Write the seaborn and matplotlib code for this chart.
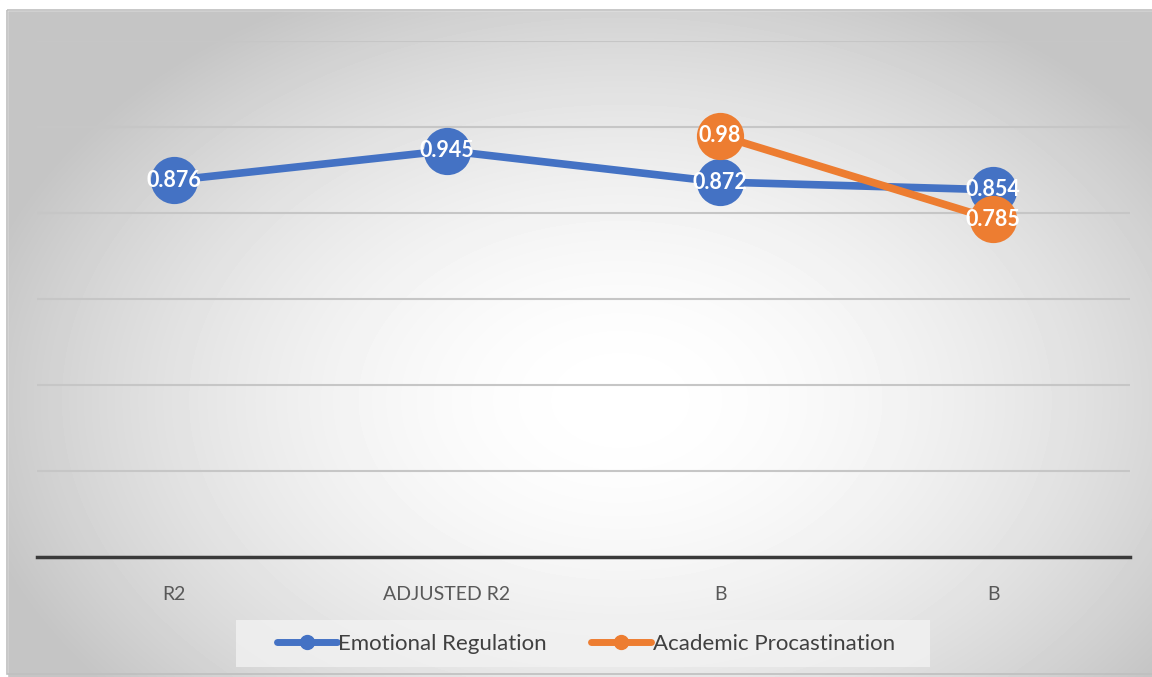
import numpy as np
import pandas as pd
import seaborn as sns
import matplotlib.pyplot as plt
from matplotlib.patches import Rectangle

categories = ["R2", "ADJUSTED R2", "B", "B"]
emotional = [0.876, 0.945, 0.872, 0.854]
academic = [np.nan, np.nan, 0.98, 0.785]

blue = "#4472C4"
orange = "#ED7D31"

sns.set_theme(style="white")
plt.rcParams["font.family"] = ["Lato", "DejaVu Sans"]

fig = plt.figure(figsize=(11.52, 6.77), dpi=100)

# radial gradient background, like the Excel chart area
bg = fig.add_axes([0, 0, 1, 1], zorder=0)
yy, xx = np.mgrid[0:677, 0:1152]
d = np.sqrt(((xx - 620) / 700.0) ** 2 + ((yy - 400) / 480.0) ** 2)
shade = 1.0 - 0.23 * np.clip(d / 0.95, 0, 1) ** 1.8
bg.imshow(shade, cmap="gray", vmin=0, vmax=1, extent=(0, 1152, 677, 0), aspect="auto")
bg.add_patch(Rectangle((0, 0), 1152, 10, color="white", zorder=2))
bg.add_patch(Rectangle((0, 0), 7, 677, color="white", zorder=2))
bg.add_patch(Rectangle((7, 10), 1150, 664, fill=False, edgecolor="#bfbfbf", lw=1.2, zorder=3))
# legend box
bg.add_patch(Rectangle((236, 620), 694, 47, color="#f2f2f2", alpha=0.8, lw=0, zorder=3))
bg.set_xlim(0, 1152)
bg.set_ylim(677, 0)
bg.axis("off")

ax = fig.add_axes([37 / 1152, 1 - 557 / 677, (1130 - 37) / 1152, (557 - 41) / 677], zorder=1)
ax.patch.set_alpha(0)

df = pd.DataFrame({"pos": range(len(categories)), "Emotional Regulation": emotional,
                   "Academic Procastination": academic})

for col, c in [("Emotional Regulation", blue), ("Academic Procastination", orange)]:
    sns.lineplot(data=df, x="pos", y=col, ax=ax, color=c, lw=5.5, marker="o",
                 markersize=34, markeredgewidth=0, label=col, legend=False)
    for x, v in zip(df["pos"], df[col]):
        if not np.isnan(v):
            ax.text(x, v, f"{v:g}", color="white", fontsize=15.5, fontweight="bold",
                    ha="center", va="center", zorder=5)

ax.set_xlim(-0.5, len(categories) - 0.5)
ax.set_ylim(0, 1.2)
ax.set_yticks(np.arange(0, 1.21, 0.2))
ax.yaxis.grid(True, color="#c6c6c6", lw=1.5)
ax.set_axisbelow(True)
ax.set_yticklabels([])
ax.tick_params(axis="y", length=0)
ax.set_xticks(df["pos"])
ax.set_xticklabels(categories, fontsize=14, color="#595959")
ax.tick_params(axis="x", length=0, pad=21)
ax.set_xlabel("")
ax.set_ylabel("")
for s in ["top", "left", "right"]:
    ax.spines[s].set_visible(False)
ax.spines["bottom"].set_color("#3a3a3a")
ax.spines["bottom"].set_linewidth(2.5)

handles = [plt.Line2D([], [], color=blue, lw=5, marker="o", markersize=10),
           plt.Line2D([], [], color=orange, lw=5, marker="o", markersize=10)]
leg = fig.legend(handles, ["Emotional Regulation", "Academic Procastination"],
                 loc="center", bbox_to_anchor=(586 / 1152, 1 - 643.5 / 677), ncol=2,
                 fontsize=16, frameon=False, handlelength=2.7, handletextpad=0.05,
                 columnspacing=2.0, borderpad=0, borderaxespad=0, labelcolor="#404040")

fig.savefig("out.png", dpi=100)
